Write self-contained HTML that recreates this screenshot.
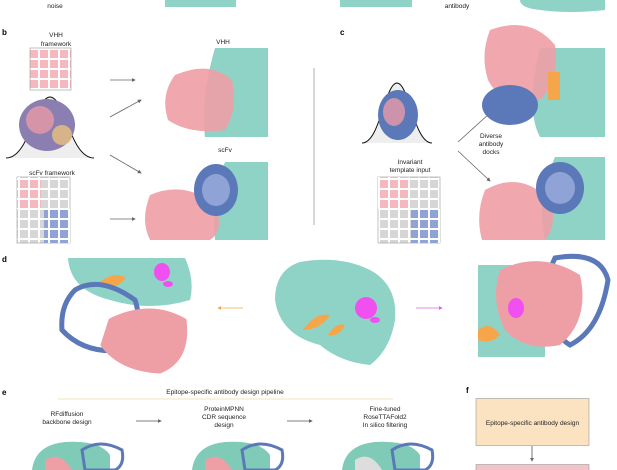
<!DOCTYPE html>
<html><head><meta charset="utf-8"><style>
html,body{margin:0;padding:0;background:#fff;}
svg{display:block;}
text{font-family:"Liberation Sans",sans-serif;font-size:6.5px;fill:#222;}
.b{font-weight:bold;font-size:8px;fill:#000;}
</style></head><body>
<svg width="617" height="470" viewBox="0 0 617 470" xmlns="http://www.w3.org/2000/svg">
<defs>
<marker id="ar" markerWidth="5" markerHeight="5" refX="4" refY="2.5" orient="auto"><path d="M0,0L5,2.5L0,5z" fill="#666"/></marker>
<marker id="ao" markerWidth="5" markerHeight="5" refX="4" refY="2.5" orient="auto"><path d="M0,0L5,2.5L0,5z" fill="#f5a64a"/></marker>
<marker id="am" markerWidth="5" markerHeight="5" refX="4" refY="2.5" orient="auto"><path d="M0,0L5,2.5L0,5z" fill="#e060e0"/></marker>
<pattern id="pp" width="10" height="10" patternUnits="userSpaceOnUse"><rect width="10" height="10" fill="#fff"/><rect width="8" height="8" fill="#f6b8bf"/></pattern>
<pattern id="gp" width="10" height="10" patternUnits="userSpaceOnUse"><rect width="10" height="10" fill="#fff"/><rect width="8" height="8" fill="#d6d6d6"/></pattern>
<pattern id="bp" width="10" height="10" patternUnits="userSpaceOnUse"><rect width="10" height="10" fill="#fff"/><rect width="8" height="8" fill="#8fa3d6"/></pattern>
</defs>
<!-- top strip -->
<text x="55" y="8" text-anchor="middle">noise</text>
<rect x="165" y="0" width="71" height="7" fill="#8fd3c6"/>
<rect x="340" y="0" width="72" height="7" fill="#8fd3c6"/>
<text x="457" y="8" text-anchor="middle">antibody</text>
<path d="M520,0H605V10Q570,14 540,10Q520,8 520,0z" fill="#8fd3c6"/>
<!-- b -->
<text x="2" y="35" class="b">b</text>
<text x="56" y="37" text-anchor="middle">VHH</text>
<text x="56" y="46" text-anchor="middle">framework</text>
<rect x="30" y="48" width="41" height="42" fill="url(#pp)" stroke="#999" stroke-width="0.6"/>
<path d="M6,158C30,158 35,97 50,97C65,97 70,158 94,158" fill="#eee" stroke="#111" stroke-width="1"/>
<ellipse cx="47" cy="125" rx="28" ry="26" fill="#8a7fb0"/>
<ellipse cx="40" cy="120" rx="14" ry="14" fill="#e89aa8" opacity="0.8"/>
<ellipse cx="62" cy="135" rx="10" ry="10" fill="#e8c080" opacity="0.8"/>
<text x="52" y="175" text-anchor="middle">scFv framework</text>
<rect x="17" y="177" width="53" height="66" fill="url(#gp)" stroke="#999" stroke-width="0.6"/>
<rect x="17" y="177" width="24" height="32" fill="url(#pp)"/>
<rect x="44" y="209" width="26" height="34" fill="url(#bp)"/>
<g stroke="#666" stroke-width="0.8" fill="none" marker-end="url(#ar)">
<line x1="110" y1="80" x2="135" y2="80"/><line x1="110" y1="117" x2="141" y2="100"/>
<line x1="110" y1="155" x2="141" y2="173"/><line x1="110" y1="219" x2="135" y2="219"/>
</g>
<text x="223" y="44" text-anchor="middle">VHH</text>
<path d="M215,48H268V137H205Q200,100 215,48z" fill="#8fd3c6"/>
<path d="M175,75Q210,60 232,80Q238,110 225,130Q190,135 168,120Q160,95 175,75z" fill="#ee9fa5" opacity="0.9"/>
<text x="225" y="152" text-anchor="middle">scFv</text>
<path d="M225,162H268V240H215Q210,200 225,162z" fill="#8fd3c6"/>
<path d="M150,195Q185,180 215,205Q225,230 210,240H150Q140,220 150,195z" fill="#ee9fa5" opacity="0.9"/>
<ellipse cx="216" cy="190" rx="22" ry="26" fill="#5b78b8"/>
<ellipse cx="216" cy="190" rx="14" ry="16" fill="#8fa3d6"/>
<line x1="314" y1="68" x2="314" y2="225" stroke="#777" stroke-width="0.6"/>
<!-- c -->
<text x="340" y="35" class="b">c</text>
<path d="M362,143C380,143 385,83 397,83C409,83 414,143 432,143" fill="#eee" stroke="#111" stroke-width="1"/>
<ellipse cx="398" cy="115" rx="20" ry="25" fill="#5b78b8"/>
<ellipse cx="394" cy="112" rx="11" ry="14" fill="#e89aa8" opacity="0.8"/>
<text x="410" y="164" text-anchor="middle">Invariant</text>
<text x="410" y="172" text-anchor="middle">template input</text>
<rect x="378" y="177" width="62" height="66" fill="url(#gp)" stroke="#999" stroke-width="0.6"/>
<rect x="378" y="177" width="30" height="32" fill="url(#pp)"/>
<rect x="411" y="209" width="29" height="34" fill="url(#bp)"/>
<g stroke="#666" stroke-width="0.8" fill="none" marker-end="url(#ar)">
<line x1="458" y1="142" x2="490" y2="113"/><line x1="458" y1="151" x2="490" y2="181"/>
</g>
<text x="491" y="138" text-anchor="middle">Diverse</text>
<text x="491" y="146" text-anchor="middle">antibody</text>
<text x="491" y="154" text-anchor="middle">docks</text>
<path d="M540,48H605V137H540Q525,110 540,48z" fill="#8fd3c6"/>
<path d="M490,30Q530,15 555,45Q560,80 540,100Q500,105 488,80Q480,55 490,30z" fill="#ee9fa5" opacity="0.9"/>
<ellipse cx="510" cy="105" rx="28" ry="20" fill="#5b78b8"/>
<rect x="548" y="72" width="12" height="28" fill="#f5a64a"/>
<path d="M555,157H605V240H545Q535,200 555,157z" fill="#8fd3c6"/>
<path d="M485,190Q520,170 550,200Q558,225 545,240H482Q475,215 485,190z" fill="#ee9fa5" opacity="0.9"/>
<ellipse cx="560" cy="188" rx="24" ry="26" fill="#5b78b8"/>
<ellipse cx="560" cy="188" rx="15" ry="16" fill="#8fa3d6"/>
<!-- d -->
<text x="2" y="262" class="b">d</text>
<path d="M68,258H185Q195,280 190,300Q150,312 110,300Q70,290 68,258z" fill="#8fd3c6"/>
<ellipse cx="162" cy="272" rx="8" ry="9" fill="#f050f0"/>
<ellipse cx="168" cy="284" rx="5" ry="3" fill="#f050f0"/>
<path d="M98,283Q115,270 126,278Q115,292 98,283z" fill="#f5a64a"/>
<path d="M75,290Q100,275 135,300Q145,330 125,350Q85,355 62,330Q60,305 75,290z" fill="none" stroke="#5b78b8" stroke-width="5"/>
<path d="M110,320Q150,300 185,320Q190,360 160,372Q120,370 102,345z" fill="#ee9fa5" stroke="#ee9fa5" stroke-width="3"/>
<line x1="243" y1="308" x2="218" y2="308" stroke="#f5a64a" stroke-width="0.8" marker-end="url(#ao)"/>
<path d="M300,262Q340,255 370,270Q398,285 395,320Q390,350 370,365Q340,362 320,345Q280,335 275,300Q275,270 300,262z" fill="#8fd3c6"/>
<ellipse cx="366" cy="308" rx="11" ry="11" fill="#f050f0"/>
<ellipse cx="375" cy="320" rx="5" ry="3" fill="#f050f0"/>
<path d="M303,330Q315,312 330,315Q320,330 303,330z" fill="#f5a64a"/>
<path d="M328,335Q335,322 345,325Q340,337 328,335z" fill="#f5a64a"/>
<line x1="416" y1="308" x2="442" y2="308" stroke="#e060e0" stroke-width="0.8" marker-end="url(#am)"/>
<path d="M478,265H545V357H478z" fill="#8fd3c6"/>
<path d="M555,258Q600,250 608,280Q600,330 570,345Q545,330 545,280z" fill="none" stroke="#5b78b8" stroke-width="5"/>
<path d="M500,270Q540,250 580,275Q590,320 560,345Q525,352 505,330Q490,300 500,270z" fill="#ee9fa5"/>
<ellipse cx="516" cy="308" rx="8" ry="10" fill="#f050f0"/>
<path d="M478,330Q490,320 500,335Q490,345 478,340z" fill="#f5a64a"/>
<!-- e -->
<text x="2" y="395" class="b">e</text>
<text x="225" y="394" text-anchor="middle">Epitope-specific antibody design pipeline</text>
<line x1="58" y1="399" x2="393" y2="399" stroke="#f3d9a8" stroke-width="0.8"/>
<text x="67" y="416" text-anchor="middle">RFdiffusion</text>
<text x="67" y="424" text-anchor="middle">backbone design</text>
<text x="224" y="411" text-anchor="middle">ProteinMPNN</text>
<text x="224" y="419" text-anchor="middle">CDR sequence</text>
<text x="224" y="427" text-anchor="middle">design</text>
<text x="385" y="411" text-anchor="middle">Fine-tuned</text>
<text x="385" y="419" text-anchor="middle">RoseTTAFold2</text>
<text x="385" y="427" text-anchor="middle">In silico filtering</text>
<g stroke="#555" stroke-width="0.8" fill="none" marker-end="url(#ar)">
<line x1="136" y1="421" x2="161" y2="421"/><line x1="287" y1="421" x2="312" y2="421"/>
</g>
<g>
<path d="M32,470Q35,445 65,442Q100,440 110,455V470z" fill="#7fcbb8"/>
<path d="M82,450Q100,438 122,450Q125,465 115,470H85z" fill="none" stroke="#5b78b8" stroke-width="3"/>
<path d="M45,460Q60,450 72,470H45z" fill="#ee9fa5"/>
<path d="M192,470Q195,445 225,442Q260,440 270,455V470z" fill="#7fcbb8"/>
<path d="M242,450Q260,438 282,450Q285,465 275,470H245z" fill="none" stroke="#5b78b8" stroke-width="3"/>
<path d="M205,460Q220,450 232,470H205z" fill="#ee9fa5"/>
<path d="M342,470Q345,445 375,442Q410,440 420,455V470z" fill="#7fcbb8"/>
<path d="M392,450Q410,438 432,450Q435,465 425,470H395z" fill="none" stroke="#5b78b8" stroke-width="3"/>
<path d="M355,460Q370,450 382,470H355z" fill="#ddd"/>
</g>
<!-- f -->
<text x="466" y="393" class="b">f</text>
<rect x="476" y="398.5" width="113" height="47" fill="#fbe3c1" stroke="#999" stroke-width="0.6"/>
<text x="532.5" y="425" text-anchor="middle">Epitope-specific antibody design</text>
<line x1="532" y1="446" x2="532" y2="461" stroke="#555" stroke-width="0.8" marker-end="url(#ar)"/>
<rect x="476" y="464.5" width="113" height="10" fill="#f4c3c8" stroke="#999" stroke-width="0.6"/>
</svg>
</body></html>
